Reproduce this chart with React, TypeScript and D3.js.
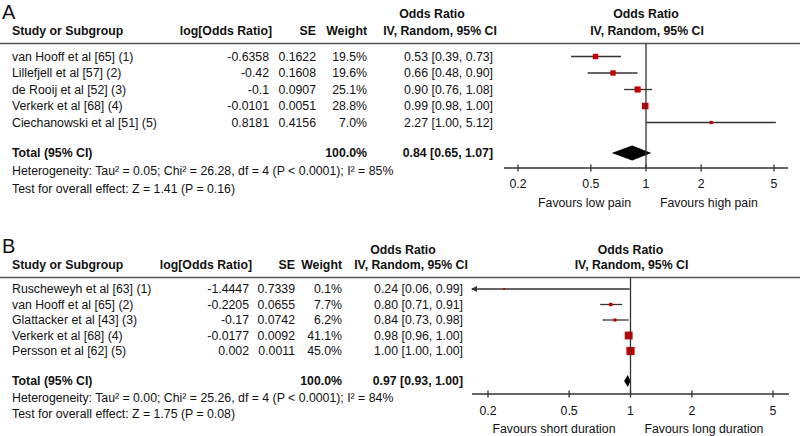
import React from "react";
import * as d3 from "d3";

// ---------- Data: panel A ----------
const studiesA = [
  "van Hooff et al [65] (1)",
  "Lillefjell et al [57] (2)",
  "de Rooij et al [52] (3)",
  "Verkerk et al [68] (4)",
  "Ciechanowski et al [51] (5)",
];
const logOrA = [-0.6358, -0.42, -0.1, -0.0101, 0.8181];
const seA = [0.1622, 0.1608, 0.0907, 0.0051, 0.4156];
const weightA = [19.5, 19.6, 25.1, 28.8, 7.0];
const orA = [0.53, 0.66, 0.9, 0.99, 2.27];
const loA = [0.39, 0.48, 0.76, 0.98, 1.0];
const hiA = [0.73, 0.9, 1.08, 1.0, 5.12];
const totalA = { or: 0.84, lo: 0.65, hi: 1.07 };
const hetA = "Heterogeneity: Tau\u00b2 = 0.05; Chi\u00b2 = 26.28, df = 4 (P < 0.0001); I\u00b2 = 85%";
const testA = "Test for overall effect: Z = 1.41 (P = 0.16)";
const favoursA = ["Favours low pain", "Favours high pain"];

// ---------- Data: panel B ----------
const studiesB = [
  "Ruscheweyh et al [63] (1)",
  "van Hooff et al [65] (2)",
  "Glattacker et al [43] (3)",
  "Verkerk et al [68] (4)",
  "Persson et al [62] (5)",
];
const logOrB = [-1.4447, -0.2205, -0.17, -0.0177, 0.002];
const seB = [0.7339, 0.0655, 0.0742, 0.0092, 0.0011];
const weightB = [0.1, 7.7, 6.2, 41.1, 45.0];
const orB = [0.24, 0.8, 0.84, 0.98, 1.0];
const loB = [0.06, 0.71, 0.73, 0.96, 1.0];
const hiB = [0.99, 0.91, 0.98, 1.0, 1.0];
const totalB = { or: 0.97, lo: 0.93, hi: 1.0 };
const hetB = "Heterogeneity: Tau\u00b2 = 0.00; Chi\u00b2 = 25.26, df = 4 (P < 0.0001); I\u00b2 = 84%";
const testB = "Test for overall effect: Z = 1.75 (P = 0.08)";
const favoursB = ["Favours short duration", "Favours long duration"];

const tickValues = [0.2, 0.5, 1, 2, 5];
const tickLabels = ["0.2", "0.5", "1", "2", "5"];

const FONT = "'Liberation Sans', Arial, Helvetica, sans-serif";
const FS = 12.3;
const RED = "#c80000";
const LINE = "#333";

type Layout = {
  label: string;
  labelBase: number;
  hdr1: number;
  hdr2: number;
  rule: number;
  rows: number[];
  totalY: number;
  hetY: number;
  testY: number;
  colLog: number;
  colSE: number;
  colW: number;
  colOR: number;
  orHdrCenter: number;
  range: [number, number];
  extent: [number, number];
  axisY: number;
  tickLabelY: number;
  favY: number;
  diamondH: number;
};

const layoutA: Layout = {
  label: "A",
  labelBase: 18.5,
  hdr1: 14,
  hdr2: 31,
  rule: 43.5,
  rows: [56.5, 73, 89.5, 106, 122.5],
  totalY: 153,
  hetY: 170.5,
  testY: 188.5,
  colLog: 272,
  colSE: 316,
  colW: 367,
  colOR: 493,
  orHdrCenter: 440,
  range: [518, 774],
  extent: [504, 788],
  axisY: 168,
  tickLabelY: 183.5,
  favY: 203,
  diamondH: 7.5,
};

const layoutB: Layout = {
  label: "B",
  labelBase: 253,
  hdr1: 249.5,
  hdr2: 265,
  rule: 277.5,
  rows: [289, 304.5, 320, 335.5, 351],
  totalY: 381,
  hetY: 398,
  testY: 413.5,
  colLog: 252,
  colSE: 295,
  colW: 342,
  colOR: 463,
  orHdrCenter: 411,
  range: [488, 773],
  extent: [472, 789],
  axisY: 394,
  tickLabelY: 411,
  favY: 429,
  diamondH: 6,
};

const sizeScale = d3.scaleSqrt().domain([0, 45]).range([0, 8.2]);

function Panel(props: {
  L: Layout;
  studies: string[];
  logOr: number[];
  se: number[];
  weight: number[];
  or: number[];
  lo: number[];
  hi: number[];
  total: { or: number; lo: number; hi: number };
  het: string;
  test: string;
  favours: string[];
}) {
  const { L, studies, logOr, se, weight, or, lo, hi, total, het, test, favours } = props;
  const x = d3.scaleLog().domain([0.2, 5]).range(L.range);
  const x1 = x(1);
  const fmt2 = d3.format(".2f");
  const ciText = (o: number, l: number, h: number) => `${fmt2(o)} [${fmt2(l)}, ${fmt2(h)}]`;
  const t = { fontFamily: FONT, fontSize: FS, fill: "#111" } as const;
  const b = { ...t, fontWeight: "bold" } as const;
  const dy = "0.35em";
  const dh = L.diamondH;
  const diamond = d3.line()([
    [x(total.lo), L.totalY],
    [x(total.or), L.totalY - dh],
    [x(total.hi), L.totalY],
    [x(total.or), L.totalY + dh],
  ]) + "Z";

  return (
    <g>
      <text x={2} y={L.labelBase} style={{ fontFamily: FONT, fontSize: 20, fill: "#111" }}>
        {L.label}
      </text>
      {/* headers */}
      <text x={12} y={L.hdr2} dy={dy} style={b}>Study or Subgroup</text>
      <text x={L.colLog} y={L.hdr2} dy={dy} textAnchor="end" style={b}>log[Odds Ratio]</text>
      <text x={L.colSE} y={L.hdr2} dy={dy} textAnchor="end" style={b}>SE</text>
      <text x={L.colW} y={L.hdr2} dy={dy} textAnchor="end" style={b}>Weight</text>
      <text x={L.orHdrCenter - 8} y={L.hdr1} dy={dy} textAnchor="middle" style={b}>Odds Ratio</text>
      <text x={L.orHdrCenter} y={L.hdr2} dy={dy} textAnchor="middle" style={b}>IV, Random, 95% CI</text>
      <text x={x1} y={L.hdr1} dy={dy} textAnchor="middle" style={b}>Odds Ratio</text>
      <text x={x1 + 1} y={L.hdr2} dy={dy} textAnchor="middle" style={b}>IV, Random, 95% CI</text>
      <line x1={0} x2={800} y1={L.rule} y2={L.rule} stroke="#555" strokeWidth={1.5} />

      {/* study rows */}
      {studies.map((s, i) => {
        const y = L.rows[i];
        const xl = Math.max(x(lo[i]), L.extent[0]);
        const xh = Math.min(x(hi[i]), L.extent[1]);
        const clippedL = x(lo[i]) < L.extent[0];
        const sz = Math.max(2, sizeScale(weight[i]));
        return (
          <g key={s}>
            <text x={12} y={y} dy={dy} style={t}>{s}</text>
            <text x={L.colLog - 3} y={y} dy={dy} textAnchor="end" style={t}>{String(logOr[i])}</text>
            <text x={L.colSE} y={y} dy={dy} textAnchor="end" style={t}>{String(se[i])}</text>
            <text x={L.colW} y={y} dy={dy} textAnchor="end" style={t}>{weight[i].toFixed(1)}%</text>
            <text x={L.colOR} y={y} dy={dy} textAnchor="end" style={t}>{ciText(or[i], lo[i], hi[i])}</text>
            <line x1={xl} x2={xh} y1={y} y2={y} stroke={LINE} strokeWidth={1.3} />
            {clippedL && (
              <path
                d={`M${xl - 1},${y} L${xl + 5},${y - 3} L${xl + 5},${y + 3} Z`}
                fill={LINE}
              />
            )}
            <rect x={x(or[i]) - sz / 2} y={y - sz / 2} width={sz} height={sz} fill={RED} />
          </g>
        );
      })}

      {/* total */}
      <text x={12} y={L.totalY} dy={dy} style={b}>Total (95% CI)</text>
      <text x={L.colW} y={L.totalY} dy={dy} textAnchor="end" style={b}>100.0%</text>
      <text x={L.colOR} y={L.totalY} dy={dy} textAnchor="end" style={b}>
        {ciText(total.or, total.lo, total.hi)}
      </text>
      <path d={diamond} fill="#000" />
      <text x={12} y={L.hetY} dy={dy} style={t}>{het}</text>
      <text x={12} y={L.testY} dy={dy} style={t}>{test}</text>

      {/* axis */}
      <line x1={x1} x2={x1} y1={L.rule} y2={L.axisY} stroke={LINE} strokeWidth={1.3} />
      <line x1={L.extent[0]} x2={L.extent[1]} y1={L.axisY} y2={L.axisY} stroke={LINE} strokeWidth={1.3} />
      {tickValues.map((v, i) => (
        <g key={v}>
          <line x1={x(v)} x2={x(v)} y1={L.axisY - 3.5} y2={L.axisY + 3.5} stroke={LINE} strokeWidth={1.3} />
          <text x={x(v)} y={L.tickLabelY} dy={dy} textAnchor="middle" style={t}>{tickLabels[i]}</text>
        </g>
      ))}
      <text x={x1 - 15} y={L.favY} dy={dy} textAnchor="end" style={t}>{favours[0]}</text>
      <text x={x1 + 14} y={L.favY} dy={dy} textAnchor="start" style={t}>{favours[1]}</text>
    </g>
  );
}

export default function App() {
  return (
    <svg
      width={800}
      height={436}
      style={{ position: "absolute", left: 0, top: 0, background: "#fff" }}
    >
      <rect width={800} height={436} fill="#fff" />
      <Panel
        L={layoutA}
        studies={studiesA}
        logOr={logOrA}
        se={seA}
        weight={weightA}
        or={orA}
        lo={loA}
        hi={hiA}
        total={totalA}
        het={hetA}
        test={testA}
        favours={favoursA}
      />
      <Panel
        L={layoutB}
        studies={studiesB}
        logOr={logOrB}
        se={seB}
        weight={weightB}
        or={orB}
        lo={loB}
        hi={hiB}
        total={totalB}
        het={hetB}
        test={testB}
        favours={favoursB}
      />
    </svg>
  );
}
